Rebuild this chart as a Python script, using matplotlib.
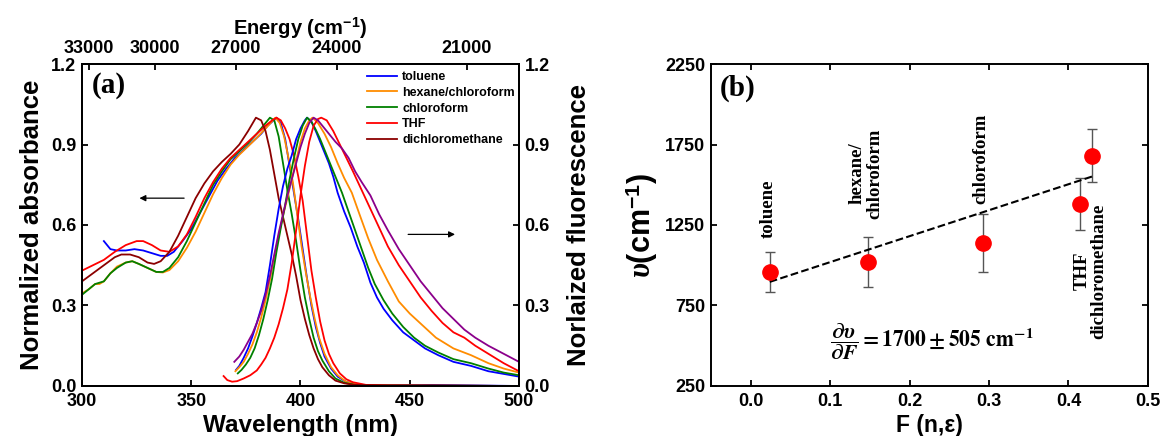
"""Solvatochromism figure: (a) absorption/emission spectra, (b) Lippert-Mataga shift."""

import matplotlib
matplotlib.use("Agg")
import matplotlib.pyplot as plt
import numpy as np

# ---------------------------------------------------------------- panel (a) data
SOLVENTS = ["toluene", "hexane/chloroform", "chloroform", "THF", "dichloromethane"]
COLORS = ["#0000FF", "#FF8C00", "#008000", "#FF0000", "#8B0000"]
PURPLE = "#8B008B"

# absorption (left axis)
ABS_TOL_WL = [310, 311.5, 313, 316, 320, 324, 328, 332, 336, 339, 342, 346, 350, 354, 358, 362,
              366, 370, 374, 378, 382, 385, 389, 391, 393, 395, 397, 399, 401, 403, 405, 407,
              409, 411, 414, 417, 421, 426, 435, 460, 500]
ABS_TOL = [0.54, 0.525, 0.51, 0.505, 0.505, 0.51, 0.505, 0.495, 0.485, 0.485, 0.50, 0.54, 0.585,
           0.645, 0.705, 0.765, 0.81, 0.85, 0.88, 0.91, 0.94, 0.97, 1.0, 0.98, 0.92, 0.82, 0.72,
           0.62, 0.51, 0.40, 0.30, 0.22, 0.16, 0.11, 0.065, 0.035, 0.015, 0.005, 0.002, 0.004, 0.0]

ABS_HEX_WL = [300, 303, 306, 308, 310, 313, 316, 320, 323, 326, 330, 334, 337, 340, 344, 348, 352,
              356, 360, 364, 368, 372, 376, 380, 384, 388.5, 390.5, 392.5, 394.5, 396.5, 398.5,
              400.5, 402.5, 404.5, 406.5, 408.5, 411, 414, 417, 421, 426, 435, 500]
ABS_HEX = [0.345, 0.36, 0.38, 0.38, 0.39, 0.42, 0.445, 0.46, 0.465, 0.455, 0.44, 0.425, 0.423,
           0.432, 0.465, 0.515, 0.575, 0.645, 0.715, 0.775, 0.825, 0.862, 0.893, 0.925, 0.96, 1.0,
           0.98, 0.93, 0.85, 0.76, 0.64, 0.52, 0.42, 0.33, 0.25, 0.18, 0.12, 0.07, 0.04, 0.015,
           0.005, 0.002, 0.0]

ABS_CHL_WL = [300, 303, 306, 308, 310, 313, 316, 320, 323, 326, 330, 334, 337, 340, 344, 348, 352,
              356, 360, 364, 368, 372, 376, 380, 383, 386, 388, 390, 392, 394, 396, 398, 400, 402,
              404, 406, 408, 410, 413, 416, 420, 425, 435, 500]
ABS_CHL = [0.34, 0.36, 0.38, 0.385, 0.39, 0.42, 0.44, 0.46, 0.465, 0.455, 0.44, 0.425, 0.425,
           0.44, 0.48, 0.54, 0.61, 0.68, 0.75, 0.80, 0.845, 0.875, 0.905, 0.94, 0.97, 1.0, 0.99,
           0.93, 0.83, 0.73, 0.64, 0.54, 0.43, 0.33, 0.25, 0.18, 0.13, 0.095, 0.055, 0.028, 0.012,
           0.004, 0.002, 0.0]

ABS_THF_WL = [300, 305, 310, 315, 320, 325, 328, 332, 336, 340, 344, 348, 352, 356, 360, 364, 368,
              372, 376, 380, 384, 387, 389, 391, 393, 395, 397, 399, 401, 403, 405, 407, 409, 411,
              413, 415, 418, 421, 424, 430, 440, 500]
ABS_THF = [0.43, 0.45, 0.47, 0.50, 0.525, 0.54, 0.54, 0.525, 0.505, 0.50, 0.52, 0.565, 0.63, 0.70,
           0.76, 0.81, 0.85, 0.88, 0.91, 0.94, 0.97, 0.99, 1.0, 0.99, 0.96, 0.92, 0.86, 0.78, 0.69,
           0.56, 0.43, 0.33, 0.24, 0.17, 0.12, 0.085, 0.047, 0.025, 0.014, 0.004, 0.002, 0.0]

ABS_DCM_WL = [300, 305, 310, 315, 318, 322, 326, 330, 333, 336, 340, 344, 348, 352, 356, 360, 364,
              368, 372, 376, 379.6, 382, 384, 386, 388, 390, 392, 394, 396, 398, 400, 402, 404, 406,
              408, 410, 413, 416, 420, 425, 440, 500]
ABS_DCM = [0.39, 0.42, 0.45, 0.48, 0.49, 0.49, 0.48, 0.46, 0.455, 0.465, 0.50, 0.56, 0.63, 0.70,
           0.755, 0.80, 0.835, 0.865, 0.90, 0.95, 1.0, 0.99, 0.95, 0.88, 0.79, 0.70, 0.63, 0.56,
           0.49, 0.41, 0.32, 0.25, 0.19, 0.14, 0.10, 0.07, 0.04, 0.02, 0.01, 0.004, 0.002, 0.0]

# emission (right axis)
EM_TOL_WL = [370.5, 372, 374, 376, 378, 380, 382, 384, 386, 388, 390, 392, 394, 396, 398, 400, 402,
             403, 405, 407, 409, 411, 413, 415, 417, 420, 423, 426, 429, 432, 435, 438, 442, 447,
             452, 457, 463, 470, 478, 486, 493, 500]
EM_TOL = [0.06, 0.075, 0.105, 0.14, 0.185, 0.235, 0.29, 0.35, 0.45, 0.56, 0.66, 0.745, 0.81,
          0.86, 0.92, 0.96, 0.99, 1.0, 0.985, 0.95, 0.91, 0.87, 0.83, 0.78, 0.72, 0.65, 0.59, 0.52,
          0.46, 0.385, 0.33, 0.288, 0.245, 0.20, 0.17, 0.14, 0.115, 0.09, 0.075, 0.055, 0.045,
          0.035]

EM_HEX_WL = [370.2, 372, 374, 376, 378, 380, 382, 384, 386, 388, 390, 392, 394, 396, 398, 400, 402,
             404, 405.5, 408, 411, 414, 417, 420, 423.5, 427, 431, 435, 440, 445, 450, 456, 462,
             470, 478, 486, 493, 500]
EM_HEX = [0.055, 0.07, 0.09, 0.12, 0.155, 0.20, 0.255, 0.32, 0.395, 0.48, 0.56, 0.635, 0.70, 0.77,
          0.84, 0.91, 0.96, 0.99, 1.0, 0.98, 0.94, 0.89, 0.83, 0.775, 0.72, 0.64, 0.55, 0.47, 0.39,
          0.315, 0.27, 0.225, 0.18, 0.14, 0.115, 0.085, 0.065, 0.05]

EM_CHL_WL = [371.3, 373, 375, 377, 379, 381, 383, 385, 387, 389, 391, 393, 395, 397, 399, 401, 403,
             405, 407, 409, 411, 413, 415.5, 419, 422, 425, 428, 431, 434, 438, 442, 447, 452, 457,
             463, 470, 478, 486, 493, 500]
EM_CHL = [0.047, 0.06, 0.08, 0.105, 0.14, 0.19, 0.25, 0.32, 0.40, 0.50, 0.59, 0.675, 0.77, 0.85,
          0.92, 0.97, 1.0, 0.985, 0.955, 0.92, 0.88, 0.84, 0.79, 0.72, 0.65, 0.58, 0.51, 0.44,
          0.38, 0.32, 0.27, 0.22, 0.18, 0.15, 0.125, 0.10, 0.085, 0.065, 0.05, 0.04]

EM_THF_WL = [364.8, 366.5, 368.7, 371, 374, 377, 380, 382, 384, 386, 388, 390, 392, 394, 396, 398,
             400, 402, 404, 406, 408, 409.5, 412, 415, 418, 421, 424, 428, 432, 436, 440, 445, 450,
             455, 460, 465, 470, 475, 480, 486, 493, 500]
EM_THF = [0.037, 0.022, 0.016, 0.018, 0.028, 0.04, 0.058, 0.08, 0.105, 0.14, 0.18, 0.23, 0.29,
          0.36, 0.46, 0.58, 0.71, 0.82, 0.91, 0.97, 0.995, 1.0, 0.99, 0.95, 0.90, 0.85, 0.80, 0.73,
          0.66, 0.59, 0.52, 0.45, 0.39, 0.33, 0.28, 0.235, 0.20, 0.18, 0.15, 0.12, 0.085, 0.055]

EM_DCM_WL = [369.7, 372, 374, 376, 378, 380, 382, 384, 386, 388, 390, 392, 394, 396, 398, 400, 402,
             404, 406, 408, 410, 413, 416, 419, 422, 425, 428, 432, 436, 440, 445, 450, 455, 460,
             465, 470, 475, 480, 486, 493, 500]
EM_DCM = [0.09, 0.11, 0.135, 0.165, 0.195, 0.235, 0.28, 0.34, 0.41, 0.49, 0.57, 0.64, 0.71, 0.77,
          0.83, 0.89, 0.94, 0.98, 1.0, 0.99, 0.97, 0.94, 0.91, 0.885, 0.85, 0.80, 0.76, 0.71, 0.64,
          0.58, 0.51, 0.45, 0.39, 0.34, 0.29, 0.25, 0.21, 0.18, 0.15, 0.12, 0.09]

ENERGY_TICKS = [33000, 30000, 27000, 24000, 21000]

# ---------------------------------------------------------------- panel (b) data
F_POLARITY = [0.024, 0.148, 0.292, 0.414, 0.430]
STOKES_SHIFT = [957, 1020, 1136, 1382, 1681]
SHIFT_ERR = [126, 153, 180, 160, 165]
FIT_SLOPE = 1613
FIT_INTERCEPT = 858

PANEL_B_LABELS = ["toluene", "hexane/\nchloroform", "chloroform", "THF\ndichloromethane"]
LABEL_X = [0.022, 0.145, 0.290, 0.428]
LABEL_Y = [1350, 1570, 1660, 965]

# ---------------------------------------------------------------- style
plt.rcParams.update({
    "font.family": "Liberation Sans",
    "font.weight": "bold",
    "axes.labelweight": "bold",
    "axes.linewidth": 1.4,
    "xtick.direction": "in",
    "ytick.direction": "in",
    "xtick.major.width": 1.3,
    "ytick.major.width": 1.3,
    "xtick.major.size": 4.5,
    "ytick.major.size": 4.5,
    "mathtext.fontset": "custom",
    "mathtext.rm": "Liberation Sans:bold",
    "mathtext.bf": "Liberation Sans:bold",
    "mathtext.it": "Liberation Serif:italic",
})

fig = plt.figure(figsize=(11.6, 4.36), dpi=100)
ax = fig.add_axes([0.0707, 0.1147, 0.3767, 0.7385])
axb = fig.add_axes([0.6129, 0.1147, 0.3767, 0.7385])

# ---------------------------------------------------------------- panel (a)
abs_series = [(ABS_TOL_WL, ABS_TOL), (ABS_HEX_WL, ABS_HEX), (ABS_CHL_WL, ABS_CHL),
              (ABS_THF_WL, ABS_THF), (ABS_DCM_WL, ABS_DCM)]
em_series = [(EM_TOL_WL, EM_TOL), (EM_HEX_WL, EM_HEX), (EM_CHL_WL, EM_CHL),
             (EM_THF_WL, EM_THF), (EM_DCM_WL, EM_DCM)]
em_colors = COLORS[:4] + [PURPLE]

for (wl, a), name, c in zip(abs_series, SOLVENTS, COLORS):
    ax.plot(wl, a, color=c, lw=1.3, label=name)

yt = np.arange(0, 1.21, 0.3)
ax.set_xlim(300, 500)
ax.set_ylim(0, 1.2)
ax.set_xticks(np.arange(300, 501, 50))
ax.set_yticks(yt)
ax.set_yticklabels([f"{v:.1f}" for v in yt])
ax.tick_params(labelsize=13, pad=4)
ax.tick_params(axis="x", pad=5)
ax.set_xlabel("Wavelength (nm)", fontsize=17.5, labelpad=3)
ax.set_ylabel("Normalized absorbance", fontsize=18.5, labelpad=5)

ax2 = ax.twinx()
for (wl, e), c in zip(em_series, em_colors):
    ax2.plot(wl, e, color=c, lw=1.3)
ax2.set_ylim(0, 1.2)
ax2.set_yticks(yt)
ax2.set_yticklabels([f"{v:.1f}" for v in yt])
ax2.tick_params(labelsize=13, direction="in", pad=4)
ax2.set_ylabel("Norlaized fluorescence", fontsize=18.5, labelpad=12)

top = ax.secondary_xaxis("top", functions=(lambda x: 1e7 / x, lambda e: 1e7 / e))
top.set_xticks(ENERGY_TICKS)
top.set_xticklabels([str(t) for t in ENERGY_TICKS])
top.tick_params(labelsize=13, direction="in", pad=5)
top.set_xlabel("Energy (cm$^{-1}$)", fontsize=14.5, labelpad=4)

ax.annotate("", xy=(325, 0.70), xytext=(348, 0.70),
            arrowprops=dict(arrowstyle="-|>", color="black", lw=0.9, mutation_scale=9))
ax.annotate("", xy=(472, 0.565), xytext=(448, 0.565),
            arrowprops=dict(arrowstyle="-|>", color="black", lw=0.9, mutation_scale=9))

ax.text(0.022, 0.975, "(a)", transform=ax.transAxes, fontsize=21, family="Liberation Serif",
        fontweight="bold", va="top", ha="left")
ax.legend(loc="upper left", bbox_to_anchor=(0.653, 0.978), frameon=False, fontsize=9,
          handlelength=2.4, handletextpad=0.4, labelspacing=0.3, borderpad=0,
          borderaxespad=0)

# ---------------------------------------------------------------- panel (b)
axb.errorbar(F_POLARITY, STOKES_SHIFT, yerr=SHIFT_ERR, fmt="none", ecolor="#555555",
             elinewidth=1.0, capsize=3.5, capthick=1.0, zorder=2)
axb.plot(F_POLARITY, STOKES_SHIFT, "o", color="#FF0000", ms=11, zorder=3)
fit_x = np.array([F_POLARITY[0], F_POLARITY[-1]])
axb.plot(fit_x, FIT_INTERCEPT + FIT_SLOPE * fit_x, "--", color="black", lw=1.5, zorder=2)

xt = np.arange(0, 0.51, 0.1)
axb.set_xlim(-0.05, 0.5)
axb.set_ylim(250, 2250)
axb.set_xticks(xt)
axb.set_xticklabels([f"{v:.1f}" for v in xt])
axb.set_yticks(np.arange(250, 2251, 500))
axb.tick_params(labelsize=13, top=True, right=True, pad=4)
axb.tick_params(axis="x", pad=5)
axb.set_xlabel("F (n,ε)", fontsize=16.5, labelpad=3)
axb.set_ylabel(r"$\upsilon$(cm$^{-1}$)", fontsize=22, labelpad=4)

for lab, x, y in zip(PANEL_B_LABELS, LABEL_X, LABEL_Y):
    axb.text(x, y, lab, rotation=90, ha="center", va="center", multialignment="center",
             family="Liberation Serif", fontweight="bold", fontsize=13.5, linespacing=1.0)

axb.text(0.228, 524, r"$\dfrac{\partial\upsilon}{\partial F}=1700\pm505\ \mathrm{cm}^{-1}$",
         ha="center", va="center", fontsize=15.5, fontweight="normal", math_fontfamily="stix")
axb.text(0.02, 0.967, "(b)", transform=axb.transAxes, fontsize=21, family="Liberation Serif",
         fontweight="bold", va="top", ha="left")

fig.savefig("out.png", dpi=100)
